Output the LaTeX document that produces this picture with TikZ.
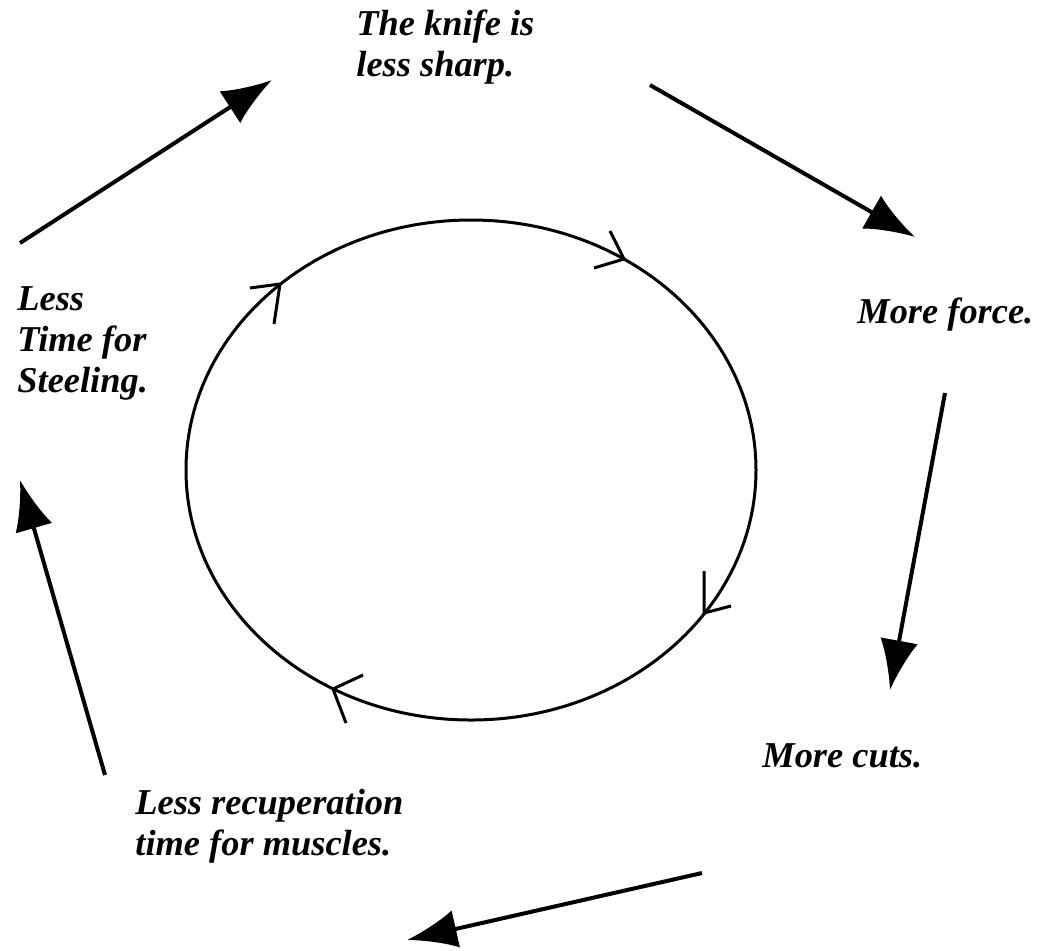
\documentclass[tikz,border=0pt]{standalone}
\usepackage{fontspec}
\setmainfont{Liberation Serif}
\usetikzlibrary{arrows.meta}

\begin{document}
\begin{tikzpicture}[x=0.5pt,y=-0.5pt,
  cyclelabel/.style={anchor=base west,inner sep=0pt,align=left,
    font=\bfseries\itshape\fontsize{18.2}{20.5}\selectfont},
  bigarrow/.style={line width=2pt,-{Latex[length=25pt,width=19pt]}},
  ring/.style={line width=1.5pt}]
\useasboundingbox (0,0) rectangle (1040,950);

% the five steps of the cycle (base = last line)
\node[cyclelabel] (sharp) at (356,76) {The knife is\\less sharp.};
\node[cyclelabel] (force) at (857,323) {More force.};
\node[cyclelabel] (cuts) at (762,767) {More cuts.};
\node[cyclelabel] (recup) at (135,855) {Less recuperation\\time for muscles.};
\node[cyclelabel] (steel) at (17,392) {Less\\Time for\\Steeling.};

% arrow ends
\coordinate (steel-out) at (20,243);
\coordinate (sharp-in) at (272,80);
\coordinate (sharp-out) at (650,85);
\coordinate (force-in) at (915,237);
\coordinate (force-out) at (945,393);
\coordinate (cuts-in) at (890,690);
\coordinate (cuts-out) at (702,873);
\coordinate (recup-in) at (407,940);
\coordinate (recup-out) at (105,775);
\coordinate (steel-in) at (20,480);

\draw[bigarrow] (steel-out) -- (sharp-in);
\draw[bigarrow] (sharp-out) -- (force-in);
\draw[bigarrow] (force-out) -- (cuts-in);
\draw[bigarrow] (cuts-out) -- (recup-in);
\draw[bigarrow] (recup-out) -- (steel-in);

% inner circle with its ticks
\draw[ring] (471,470) ellipse [x radius=285, y radius=250];
\draw[ring] (250,288) -- (280,284) -- (274,324);
\draw[ring] (594,268) -- (624,259) -- (610,231);
\draw[ring] (704,571) -- (704,613) -- (731,606);
\draw[ring] (363,675) -- (333,689) -- (346,723);
\end{tikzpicture}
\end{document}
